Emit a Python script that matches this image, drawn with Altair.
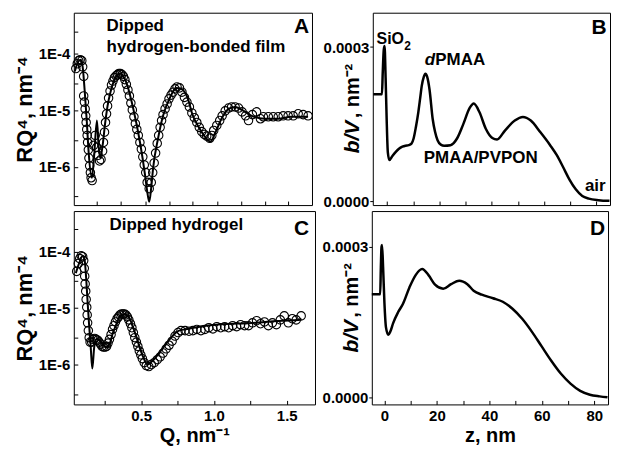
import altair as alt
import pandas as pd

FONT = "Liberation Sans"

# ---------------- Panel A: dipped hydrogen-bonded film ----------------
qA = [0.052, 0.062, 0.072, 0.082, 0.093, 0.099, 0.106, 0.106, 0.111, 0.116, 0.120, 0.123,
      0.127, 0.130, 0.133, 0.138, 0.142, 0.147, 0.152, 0.157, 0.164, 0.174, 0.185, 0.195,
      0.205, 0.215, 0.225, 0.236, 0.242, 0.249, 0.256, 0.263, 0.270, 0.277, 0.287, 0.297,
      0.307, 0.317, 0.328, 0.338, 0.348, 0.358, 0.369, 0.379, 0.389, 0.399, 0.410, 0.420,
      0.430, 0.440, 0.451, 0.461, 0.471, 0.481, 0.492, 0.502, 0.512, 0.522, 0.532, 0.542,
      0.556, 0.570, 0.580, 0.590, 0.600, 0.611, 0.621, 0.631, 0.641, 0.651, 0.665, 0.679,
      0.692, 0.706, 0.720, 0.733, 0.747, 0.764, 0.781, 0.798, 0.815, 0.832, 0.849, 0.866,
      0.883, 0.900, 0.917, 0.934, 0.951, 0.972, 0.986, 0.999, 1.020, 1.040, 1.057, 1.078,
      1.101, 1.122, 1.146, 1.170, 1.194, 1.218, 1.238, 1.265, 1.293, 1.320, 1.340, 1.374,
      1.408, 1.442, 1.476, 1.510, 1.545, 1.579, 1.613, 1.647]
rA = [5.5e-5, 6.7e-5, 7.6e-5, 7.9e-5, 7.6e-5, 5.9e-5, 4.0e-5, 1.8e-5, 1.4e-5, 1.06e-5, 8.0e-6, 6.1e-6,
      4.6e-6, 3.6e-6, 2.7e-6, 2.0e-6, 1.43e-6, 1.04e-6, 7.9e-7, 6.4e-7, 5.7e-7, 2.4e-6, 3.6e-6, 2.2e-6,
      1.6e-6, 1.27e-6, 1.35e-6, 1.9e-6, 2.7e-6, 4.1e-6, 6.1e-6, 8.7e-6, 1.2e-5, 1.65e-5, 2.2e-5, 2.8e-5,
      3.3e-5, 3.8e-5, 4.1e-5, 4.3e-5, 4.5e-5, 4.5e-5, 4.3e-5, 4.0e-5, 3.5e-5, 2.9e-5, 2.3e-5, 1.8e-5,
      1.35e-5, 1.02e-5, 7.7e-6, 5.8e-6, 4.6e-6, 3.6e-6, 2.7e-6, 2.06e-6, 1.5e-6, 1.08e-6, 7.9e-7, 5.3e-7,
      4.1e-7, 5.3e-7, 7.9e-7, 1.17e-6, 1.75e-6, 2.6e-6, 3.6e-6, 5.0e-6, 6.6e-6, 8.4e-6, 1.06e-5, 1.3e-5,
      1.6e-5, 1.86e-5, 2.1e-5, 2.4e-5, 2.6e-5, 2.5e-5, 2.1e-5, 1.7e-5, 1.4e-5, 1.15e-5, 9.0e-6, 7.4e-6,
      6.1e-6, 5.0e-6, 4.2e-6, 3.75e-6, 3.5e-6, 3.2e-6, 3.6e-6, 4.4e-6, 5.4e-6, 6.6e-6, 8.0e-6, 9.8e-6,
      1.1e-5, 1.15e-5, 1.15e-5, 1.1e-5, 9.4e-6, 8.0e-6, 6.6e-6, 8.4e-6, 9.4e-6, 7.1e-6, 7.7e-6, 7.7e-6,
      7.7e-6, 7.7e-6, 8.0e-6, 8.0e-6, 8.0e-6, 8.7e-6, 8.4e-6, 8.0e-6]
qA_fit = [0.045, 0.065, 0.086, 0.099, 0.113, 0.127, 0.140, 0.163, 0.178, 0.197, 0.208, 0.220,
          0.236, 0.254, 0.270, 0.288, 0.322, 0.356, 0.379, 0.401, 0.447, 0.493, 0.527, 0.542,
          0.556, 0.570, 0.583, 0.617, 0.651, 0.697, 0.742, 0.776, 0.822, 0.851, 0.897, 0.943,
          0.977, 1.011, 1.056, 1.101, 1.147, 1.192, 1.260, 1.351, 1.442, 1.533, 1.647]
rA_fit = [4.9e-5, 7.0e-5, 7.9e-5, 5.9e-5, 2.2e-5, 6.6e-6, 1.82e-6, 6.4e-7, 1.6e-6, 6.6e-6, 2.4e-6, 1.43e-6,
          2.4e-6, 6.1e-6, 1.2e-5, 2.0e-5, 3.7e-5, 4.5e-5, 4.0e-5, 3.0e-5, 1.06e-5, 2.7e-6, 7.3e-7, 3.7e-7,
          2.4e-7, 4.3e-7, 9.6e-7, 3.2e-6, 8.0e-6, 1.65e-5, 2.5e-5, 2.4e-5, 1.6e-5, 8.7e-6, 5.0e-6, 3.3e-6,
          2.8e-6, 4.1e-6, 7.4e-6, 1.06e-5, 1.15e-5, 1.02e-5, 8.0e-6, 7.1e-6, 7.1e-6, 7.7e-6, 7.7e-6]

# ---------------- Panel C: dipped hydrogel ----------------
qC = [0.058, 0.069, 0.079, 0.089, 0.099, 0.106, 0.110, 0.113, 0.116, 0.120, 0.123, 0.127,
      0.130, 0.133, 0.138, 0.144, 0.150, 0.161, 0.171, 0.181, 0.191, 0.202, 0.212, 0.222,
      0.232, 0.242, 0.253, 0.263, 0.273, 0.283, 0.294, 0.304, 0.314, 0.324, 0.335, 0.345,
      0.355, 0.365, 0.376, 0.386, 0.396, 0.406, 0.416, 0.427, 0.437, 0.447, 0.457, 0.468,
      0.478, 0.488, 0.498, 0.509, 0.522, 0.536, 0.553, 0.570, 0.590, 0.611, 0.631, 0.651,
      0.672, 0.692, 0.713, 0.733, 0.754, 0.774, 0.802, 0.829, 0.856, 0.883, 0.911, 0.938,
      0.965, 0.993, 1.020, 1.047, 1.074, 1.101, 1.129, 1.156, 1.183, 1.211, 1.238, 1.265,
      1.293, 1.320, 1.347, 1.374, 1.402, 1.429, 1.456, 1.483, 1.511, 1.538, 1.565, 1.599]
rC = [4.5e-5, 6.2e-5, 7.6e-5, 8.5e-5, 8.2e-5, 7.0e-5, 5.1e-5, 3.7e-5, 2.7e-5, 2.0e-5, 1.43e-5, 1.04e-5,
      7.6e-6, 5.5e-6, 4.0e-6, 3.0e-6, 2.5e-6, 2.5e-6, 2.8e-6, 2.9e-6, 2.8e-6, 2.7e-6, 2.5e-6, 2.3e-6,
      2.1e-6, 2.04e-6, 2.04e-6, 2.1e-6, 2.4e-6, 2.8e-6, 3.4e-6, 4.2e-6, 4.9e-6, 5.7e-6, 6.5e-6, 7.0e-6,
      7.6e-6, 7.9e-6, 7.9e-6, 7.9e-6, 7.6e-6, 7.0e-6, 6.2e-6, 5.3e-6, 4.5e-6, 3.7e-6, 3.0e-6, 2.5e-6,
      2.1e-6, 1.74e-6, 1.49e-6, 1.27e-6, 1.08e-6, 9.6e-7, 9.2e-7, 1.0e-6, 1.08e-6, 1.22e-6, 1.37e-6, 1.6e-6,
      1.9e-6, 2.2e-6, 2.6e-6, 3.2e-6, 3.7e-6, 4.0e-6, 4.0e-6, 3.9e-6, 4.0e-6, 4.2e-6, 4.0e-6, 4.2e-6,
      4.5e-6, 4.3e-6, 4.7e-6, 4.5e-6, 4.7e-6, 4.5e-6, 4.9e-6, 4.7e-6, 5.1e-6, 4.9e-6, 4.9e-6, 5.5e-6,
      6.0e-6, 5.3e-6, 5.7e-6, 4.9e-6, 5.5e-6, 5.1e-6, 6.2e-6, 7.3e-6, 5.5e-6, 6.5e-6, 6.2e-6, 7.3e-6]
qC_fit = [0.052, 0.079, 0.099, 0.113, 0.123, 0.133, 0.144, 0.154, 0.165, 0.178, 0.193, 0.215,
          0.236, 0.261, 0.283, 0.306, 0.329, 0.352, 0.386, 0.420, 0.443, 0.466, 0.488, 0.511,
          0.545, 0.579, 0.624, 0.670, 0.715, 0.761, 0.829, 0.897, 1.011, 1.124, 1.238, 1.352,
          1.465, 1.579, 1.601]
rC_fit = [4.2e-5, 6.7e-5, 8.5e-5, 7.0e-5, 3.4e-5, 1.27e-5, 4.7e-6, 2.1e-6, 8.5e-7, 2.0e-6, 2.8e-6, 2.7e-6,
          2.3e-6, 2.0e-6, 2.3e-6, 3.6e-6, 5.1e-6, 7.0e-6, 7.9e-6, 6.7e-6, 4.7e-6, 3.2e-6, 2.1e-6, 1.43e-6,
          1.0e-6, 1.17e-6, 1.6e-6, 2.3e-6, 3.2e-6, 4.0e-6, 4.3e-6, 4.7e-6, 5.1e-6, 5.3e-6, 5.4e-6, 5.7e-6,
          6.0e-6, 6.2e-6, 6.5e-6]

# ---------------- Panel B / D: b/V profiles ----------------
zB = [-5.3, -2.0, -1.7, -1.3, -1.0, -0.6, -0.2, 0.25, 0.85, 2.0, 3.3, 4.5, 5.8, 7.0, 8.2, 9.3,
      10.1, 11.0, 11.9, 12.6, 13.2, 14.0, 14.6, 15.3, 16.2, 17.4, 18.3, 19.3, 20.5, 21.8, 24.2,
      26.7, 29.1, 31.6, 33.1, 35.3, 37.7, 40.2, 42.0, 45.1, 48.8, 51.9, 54.9, 58.6, 62.3, 64.8,
      67.2, 69.7, 72.1, 74.6, 77.1, 80.8, 85.0]
sB = [2.08e-4, 2.08e-4, 2.5e-4, 2.95e-4, 3.02e-4, 2.4e-4, 1.6e-4, 9.5e-5, 8.0e-5, 8.8e-5, 9.6e-5,
      1.02e-4, 1.06e-4, 1.08e-4, 1.09e-4, 1.12e-4, 1.22e-4, 1.45e-4, 1.73e-4, 2.0e-4, 2.24e-4,
      2.42e-4, 2.48e-4, 2.42e-4, 2.17e-4, 1.6e-4, 1.35e-4, 1.18e-4, 1.1e-4, 1.08e-4, 1.09e-4,
      1.22e-4, 1.5e-4, 1.82e-4, 1.9e-4, 1.73e-4, 1.41e-4, 1.23e-4, 1.2e-4, 1.38e-4, 1.57e-4,
      1.64e-4, 1.57e-4, 1.34e-4, 1.09e-4, 9.0e-5, 6.7e-5, 4.2e-5, 2.3e-5, 1.0e-5, 5e-6, 2e-6, 6e-7]
zD = [-4.8, -1.6, -1.35, -1.1, -0.9, -0.5, 0.0, 0.6, 1.5, 2.3, 3.3, 5.2, 7.0, 9.5, 11.9, 14.4,
      16.8, 19.3, 22.4, 25.4, 28.5, 31.6, 34.0, 37.1, 41.4, 45.1, 48.8, 52.5, 56.1, 59.8, 63.5,
      67.2, 70.9, 74.6, 78.3, 82.0, 85.0]
sD = [2.06e-4, 2.06e-4, 2.6e-4, 3.0e-4, 3.04e-4, 2.6e-4, 1.9e-4, 1.4e-4, 1.25e-4, 1.32e-4, 1.48e-4,
      1.70e-4, 1.86e-4, 2.19e-4, 2.44e-4, 2.56e-4, 2.44e-4, 2.25e-4, 2.17e-4, 2.26e-4, 2.33e-4,
      2.26e-4, 2.13e-4, 2.05e-4, 1.98e-4, 1.91e-4, 1.77e-4, 1.57e-4, 1.32e-4, 1.03e-4, 7.4e-5,
      4.8e-5, 2.8e-5, 1.35e-5, 5.8e-6, 2.5e-6, 6e-7]

A_TICKS = [0.197, 0.363, 0.529, 0.692, 0.851, 1.022, 1.188, 1.352, 1.510]
C_TICKS = [0.25, 0.5, 0.75, 1.0, 1.25, 1.5]
LOG_TICKS = [2.5e-4, 1e-4, 3e-5, 1e-5, 3e-6, 1e-6, 3e-7]
Z_TICKS = [0, 10, 20, 30, 40, 50, 60, 70, 80]

log_label = ("abs(log(datum.value)/LN10 - round(log(datum.value)/LN10)) < 0.01 ? "
             "'1E' + round(log(datum.value)/LN10) : ''")
INWARD = {"expr": "-4"}


def txt(df, size=17, align="left", style="normal", angle=0):
    return alt.Chart(df).mark_text(font=FONT, fontWeight="bold", fontSize=size, align=align,
                                   baseline="middle", fontStyle=style, angle=angle, color="black")


def refl_panel(q, r, qf, rf, w, h, xdom, ydom, xaxis, notes, letter):
    x = alt.X("Q:Q", scale=alt.Scale(domain=xdom, nice=False, zero=False), axis=xaxis)
    y = alt.Y("R:Q", scale=alt.Scale(type="log", domain=ydom, nice=False),
              axis=alt.Axis(values=LOG_TICKS, labelExpr=log_label, tickSize=INWARD,
                            labelPadding=8, title="RQ\u2074, nm\u207b\u2074", titlePadding=2))
    pts = alt.Chart(pd.DataFrame({"Q": q, "R": r})).mark_point(
        shape="circle", filled=False, size=72, stroke="black", strokeWidth=1.1, opacity=1
    ).encode(x=x, y=y)
    fit = alt.Chart(pd.DataFrame({"Q": qf, "R": rf})).mark_line(
        color="black", strokeWidth=2, interpolate="monotone").encode(x=x, y=y)
    t1 = txt(notes).encode(x=x, y=y, text="label:N")
    t2 = txt(letter, size=21, align="center").encode(x=x, y=y, text="label:N")
    return alt.layer(pts, fit, t1, t2).properties(width=w, height=h)


def sld_panel(z, s, w, h, xdom, ydom, xaxis, notes, letter):
    x = alt.X("z:Q", scale=alt.Scale(domain=xdom, nice=False, zero=False), axis=xaxis)
    y = alt.Y("s:Q", scale=alt.Scale(domain=ydom, nice=False, zero=False),
              axis=alt.Axis(values=[0, 0.0003], format=".4f", tickSize=3, labelPadding=1,
                            title=None))
    line = alt.Chart(pd.DataFrame({"z": z, "s": s})).mark_line(
        color="black", strokeWidth=2.5, interpolate="monotone").encode(x=x, y=y)
    layers = [line]
    for df, size, style in notes:
        layers.append(txt(df, size=size, style=style).encode(x=x, y=y, text="label:N"))
    layers.append(txt(letter, size=21, align="center").encode(x=x, y=y, text="label:N"))
    # rotated y-axis title placed between the two tick labels
    yt1 = txt(pd.DataFrame({"label": ["b/V"]}), size=21, style="italic", angle=270).encode(
        x=alt.value(-20), y=alt.value(h - 52), text="label:N")
    yt2 = txt(pd.DataFrame({"label": [", nm\u207b\u00b2"]}), size=20, angle=270).encode(
        x=alt.value(-20), y=alt.value(h - 87), text="label:N")
    layers += [yt1, yt2]
    return alt.layer(*layers).properties(width=w, height=h)


axA = alt.Axis(values=A_TICKS, labels=False, title=None, tickSize=INWARD)
axC = alt.Axis(values=C_TICKS, tickSize=INWARD, labelPadding=8, title="Q, nm\u207b\u00b9",
               titlePadding=2,
               labelExpr="(datum.value * 2) % 1 == 0 ? format(datum.value, '.1f') : ''")
axB = alt.Axis(values=Z_TICKS, labels=False, title=None, tickSize=INWARD)
axD = alt.Axis(values=Z_TICKS, tickSize=INWARD, labelPadding=8, title="z, nm", titlePadding=2,
               labelExpr="datum.value % 20 == 0 ? datum.label : ''")

panelA = refl_panel(
    qA, rA, qA_fit, rA_fit, 239, 193, [0.038, 1.674], [2.1e-7, 5.37e-4], axA,
    pd.DataFrame({"Q": [0.263, 0.263], "R": [3.07e-4, 1.32e-4],
                  "label": ["Dipped", "hydrogen-bonded film"]}),
    pd.DataFrame({"Q": [1.602], "R": [2.95e-4], "label": ["A"]}))

panelC = refl_panel(
    qC, rC, qC_fit, rC_fit, 242, 194, [0.038, 1.694], [1.96e-7, 5.3e-4], axC,
    pd.DataFrame({"Q": [0.283], "R": [3.04e-4], "label": ["Dipped hydrogel"]}),
    pd.DataFrame({"Q": [1.602], "R": [2.5e-4], "label": ["C"]}))

panelB = sld_panel(
    zB, sB, 238, 193, [-5.5, 85.2], [-7.6e-6, 3.669e-4], axB,
    [(pd.DataFrame({"z": [-4.06], "s": [3.15e-4], "label": ["SiO"]}), 16, "normal"),
     (pd.DataFrame({"z": [6.5], "s": [3.03e-4], "label": ["2"]}), 12, "normal"),
     (pd.DataFrame({"z": [14.4], "s": [2.75e-4], "label": ["d"]}), 17, "italic"),
     (pd.DataFrame({"z": [18.4, 14.0, 75.6], "s": [2.75e-4, 8.4e-5, 2.87e-5],
                    "label": ["PMAA", "PMAA/PVPON", "air"]}), 17, "normal")],
    pd.DataFrame({"z": [81.0], "s": [3.38e-4], "label": ["B"]}))

panelD = sld_panel(
    zD, sD, 237, 194, [-4.8, 85.2], [-1.35e-5, 3.716e-4], axD,
    [],
    pd.DataFrame({"z": [81.2], "s": [3.35e-4], "label": ["D"]}))

top = alt.hconcat(panelA, panelB, spacing=7)
bottom = alt.hconcat(panelC, panelD, spacing=5)

chart = alt.vconcat(top, bottom, spacing=0).properties(
    padding={"left": 4, "top": 3, "right": 0, "bottom": -1}
).configure_view(
    stroke="black", strokeWidth=1
).configure_axis(
    grid=False, domain=False, tickColor="black", tickWidth=1,
    labelColor="black", labelFont=FONT, labelFontWeight="bold", labelFontSize=15,
    titleColor="black", titleFont=FONT, titleFontWeight="bold", titleFontSize=20,
    labelFlush=False, labelOverlap=False
).configure_axisLeft(titleFontSize=22)

chart.save("out.html", embed_options={"renderer": "svg", "actions": False})
